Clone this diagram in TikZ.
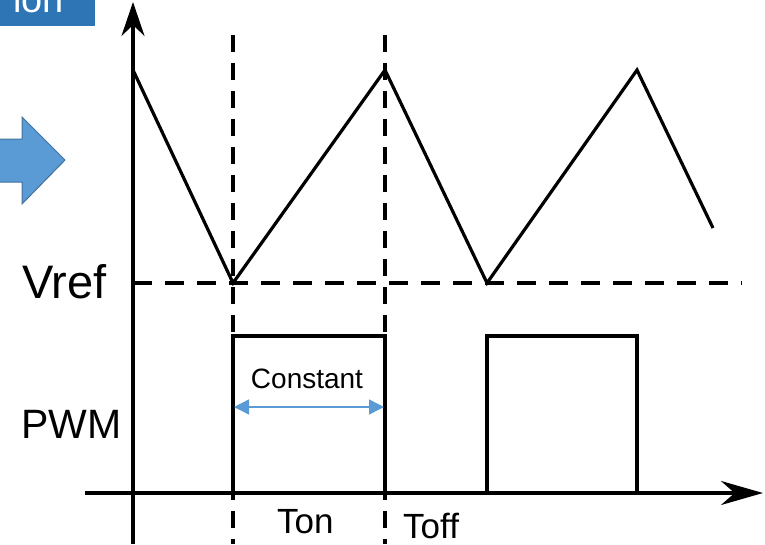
\documentclass[tikz,border=0pt]{standalone}
\usepackage{fontspec}
\setmainfont{Liberation Sans}
\usetikzlibrary{arrows.meta}
\definecolor{boxblue}{HTML}{2E75B6}
\definecolor{arrblue}{HTML}{5B9BD5}
\definecolor{arredge}{HTML}{41719C}
\tikzset{
  wave/.style={line width=3.2pt, line join=miter},
  guide/.style={line width=4pt, dash pattern=on 17pt off 11pt},
  refline/.style={line width=3.5pt, dash pattern=on 19pt off 13pt},
  axis/.style={line width=3.2pt},
  lbl/.style={inner sep=0pt, font=\fontsize{#1}{#1}\selectfont},
}
\begin{document}
\begin{tikzpicture}[x=1pt,y=-1pt]
\useasboundingbox (0,0) rectangle (765,544);
% top-left clipped title box
\begin{scope}
\clip (0,0) rectangle (95,26);
\fill[boxblue] (0,0) rectangle (95,26);
\node[lbl=38, text=white, anchor=base east] (title) at (64,12) {ion};
\end{scope}
% blue block arrow
\draw[fill=arrblue, draw=arredge, line width=1pt]
  (-5,139) -- (22,139) -- (22,117) -- (65,160) -- (22,204) -- (22,182) -- (-5,182) -- cycle;
% coordinates
\coordinate (yb) at (133,544);
\coordinate (yt) at (133,2);
\coordinate (xl) at (85,493);
\coordinate (xr) at (763,493);
% vertical guides
\coordinate (g1t) at (233,35); \coordinate (g1b) at (233,544);
\coordinate (g2t) at (385,35); \coordinate (g2b) at (385,544);
% Vref line
\coordinate (r1) at (133,283); \coordinate (r2) at (742,283);
\draw[refline] (r1) -- (r2);
% triangle wave
\coordinate (w0) at (133,70);
\coordinate (w1) at (233,283);
\coordinate (w2) at (385,70);
\coordinate (w3) at (487,283);
\coordinate (w4) at (637,70);
\coordinate (w5) at (713,228);
\draw[wave] (w0) -- (w1) -- (w2) -- (w3) -- (w4) -- (w5);
% PWM pulses
\coordinate (p1a) at (233,493); \coordinate (p1b) at (233,336);
\coordinate (p1c) at (385,336); \coordinate (p1d) at (385,493);
\coordinate (p2a) at (487,493); \coordinate (p2b) at (487,336);
\coordinate (p2c) at (637,336); \coordinate (p2d) at (637,493);
\draw[wave] (p1a) -- (p1b) -- (p1c) -- (p1d);
\draw[wave] (p2a) -- (p2b) -- (p2c) -- (p2d);
\draw[guide] (g1t) -- (g1b);
\draw[guide] (g2t) -- (g2b);
% axes
\draw[axis, -{Stealth[length=34pt,width=23pt]}] (yb) -- (yt);
\draw[axis, -{Stealth[length=42pt,width=24pt]}] (xl) -- (xr);
% constant arrow
\coordinate (c1) at (234,407); \coordinate (c2) at (384,407);
\draw[arrblue, line width=1.5pt, {Triangle[length=15pt,width=15pt]}-{Triangle[length=15pt,width=15pt]}] (c1) -- (c2);
% labels
\node[lbl=47, anchor=base west] (vref) at (22,298) {Vref};
\node[lbl=41, anchor=base west] (pwm) at (21,438) {PWM};
\node[lbl=28, anchor=base] (const) at (307,388) {Constant};
\node[lbl=35, anchor=base west] (ton) at (277,533) {Ton};
\node[lbl=35, anchor=base west] (toff) at (403,538) {Toff};
\end{tikzpicture}
\end{document}
